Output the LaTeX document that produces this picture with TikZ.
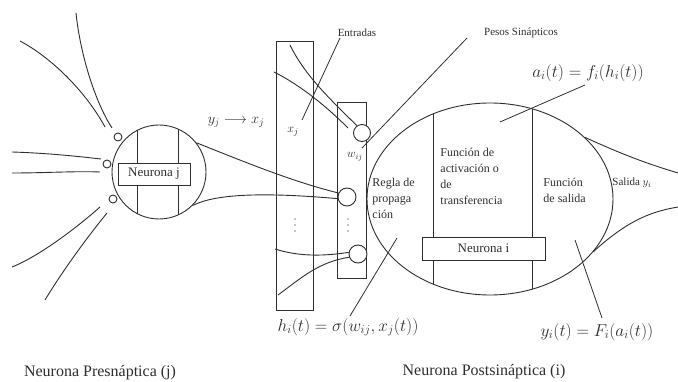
\documentclass[tikz,border=0pt]{standalone}
\usepackage{fontspec}
\setmainfont{Liberation Serif}
\usetikzlibrary{shapes.geometric}
\begin{document}
\begin{tikzpicture}[x=1pt,y=-1pt, line width=0.9pt, color=black!82,
  lbl/.style={font=\fontsize{12}{16}\selectfont, align=left, inner sep=0},
  small/.style={font=\fontsize{11}{13}\selectfont, inner sep=0},
  big/.style={font=\fontsize{16}{18}\selectfont, inner sep=0},
  frm/.style={font=\fontsize{17.5}{19}\selectfont, inner sep=0},
  syn/.style={circle, draw, fill=white, minimum size=17pt, inner sep=0},
  knob/.style={circle, draw, fill=white, minimum size=8pt, inner sep=0},
  nbox/.style={draw, fill=white, inner sep=0, font=\fontsize{13}{15}\selectfont},
  col/.style={draw, inner sep=0},
  dot/.style={circle, fill=black!45, draw=none, minimum size=1.8pt, inner sep=0}
]
\useasboundingbox (0,0) rectangle (678,382);

% ---------------- presynaptic neuron ----------------
\node[circle, draw, minimum size=94pt, inner sep=0] (pre) at (159,172) {};
\begin{scope}
  \clip (159,172) circle (47pt);
  \draw (137,110) -- (137,240);
  \draw (178,110) -- (178,240);
\end{scope}
\node[nbox, minimum width=72pt, minimum height=22pt] (nj) at (154,174) {Neurona j};

\node[knob] (s1) at (118,137) {};
\node[knob] (s2) at (107,164) {};
\node[knob] (s3) at (113,199) {};

% dendrites
\coordinate (d1a) at (20,41);  \coordinate (d1b) at (105,127);
\coordinate (d2a) at (76,13);  \coordinate (d2b) at (112,128);
\coordinate (d3a) at (12,152); \coordinate (d3b) at (101,159);
\coordinate (d4a) at (12,173); \coordinate (d4b) at (100,172);
\coordinate (d5a) at (100,207); \coordinate (d5b) at (12,267);
\coordinate (d6a) at (107,213); \coordinate (d6b) at (45,300);
\draw (d1a) .. controls (52,58) and (86,92) .. (d1b);
\draw (d2a) .. controls (80,52) and (94,100) .. (d2b);
\draw (d3a) .. controls (45,153) and (75,156) .. (d3b);
\draw (d4a) .. controls (45,173) and (75,171) .. (d4b);
\draw (d5a) .. controls (80,225) and (40,256) .. (d5b);
\draw (d6a) .. controls (85,240) and (62,272) .. (d6b);

% ---------------- input columns ----------------
\node[col, minimum width=37pt, minimum height=269pt] (colx) at (294.5,175.5) {};
\node[col, minimum width=29pt, minimum height=176pt] (colw) at (351.5,190) {};
\foreach \yy [count=\k] in {219,225,231} {
  \node[dot] (dx\k) at (295,\yy) {};
  \node[dot] (dw\k) at (348,\yy) {};
}

% ---------------- postsynaptic neuron ----------------
\node[ellipse, draw, minimum width=246pt, minimum height=192pt, inner sep=0] (post) at (490,199) {};
\begin{scope}
  \clip (490,199) ellipse [x radius=123pt, y radius=96pt];
  \draw (433,90) -- (433,310);
  \draw (532,90) -- (532,310);
\end{scope}
\node[nbox, minimum width=123pt, minimum height=23pt] (ni) at (483.5,248.5) {Neurona i};

% synapses
\node[syn] (w1) at (362,133) {};
\node[syn, minimum size=18pt] (w2) at (347,197) {};
\node[syn, minimum size=18pt] (w3) at (358,254) {};

% axon of presynaptic neuron to synapses
\draw (pre.38) .. controls (240,160) and (290,181) .. (w2.155);
\draw (pre.-45) .. controls (215,194) and (262,192) .. (w2.190);

% other inputs
\coordinate (ia1) at (290,45);  \coordinate (ib1) at (274,72);
\coordinate (ib2) at (348,128);
\draw (ia1) .. controls (305,76) and (332,101) .. (w1.125);
\draw (ib1) .. controls (302,86) and (328,108) .. (ib2);
\coordinate (ic1) at (275,249); \coordinate (id1) at (278,295);
\draw (ic1) .. controls (300,257) and (325,256) .. (w3.170);
\draw (id1) .. controls (300,279) and (318,262) .. (w3.200);

% output axon
\coordinate (o1) at (678,173); \coordinate (o2) at (678,207);
\draw (post.33) .. controls (630,158) and (655,166) .. (o1);
\draw (post.-27) .. controls (630,218) and (655,211) .. (o2);

% ---------------- labels ----------------
\node[lbl, anchor=west] (regla) at (372,198) {\fontsize{12}{15}\selectfont Regla de\\propaga\\ción};
\node[lbl, anchor=west] (fact) at (440,176) {Función de\\activación o\\de\\transferencia};
\node[lbl, anchor=west] (fsal) at (543,190) {\fontsize{12}{15}\selectfont Función\\de salida};
\node[small, anchor=west] (sal) at (612,183) {Salida $y_i$};

\node[small] (ent) at (357,33) {Entradas};
\node[small] (pesos) at (521,33) {Pesos Sinápticos};
\coordinate (ent1) at (340,38); \coordinate (ent2) at (302,120);
\draw[line width=0.8pt] (ent1) -- (ent2);
\coordinate (pes1) at (467,38); \coordinate (pes2) at (362,148);
\draw[line width=0.8pt] (pes1) -- (pes2);

\node[font=\fontsize{14}{16}\selectfont, inner sep=0] (yx) at (236,122) {$y_j \longrightarrow x_j$};
\node[font=\fontsize{13}{15}\selectfont, inner sep=0] (xj) at (293,132) {$x_j$};
\node[font=\fontsize{12}{14}\selectfont, inner sep=0] (wij) at (355,157) {$w_{ij}$};

\node[frm] (fa) at (588,73) {$a_i(t) = f_i(h_i(t))$};
\node[frm] (fh) at (348,327) {$h_i(t) = \sigma(w_{ij}, x_j(t))$};
\node[frm] (fy) at (597,332) {$y_i(t) = F_i(a_i(t))$};
\coordinate (fa1) at (585,85);  \coordinate (fa2) at (500,122);
\coordinate (fh1) at (350,316); \coordinate (fh2) at (397,238);
\coordinate (fy1) at (602,318); \coordinate (fy2) at (575,240);
\draw[line width=0.8pt] (fa1) -- (fa2);
\draw[line width=0.8pt] (fh1) -- (fh2);
\draw[line width=0.8pt] (fy1) -- (fy2);

\node[big] (lpre) at (100,373) {Neurona Presnáptica (j)};
\node[big] (lpost) at (484,372) {Neurona Postsináptica (i)};
\end{tikzpicture}
\end{document}
